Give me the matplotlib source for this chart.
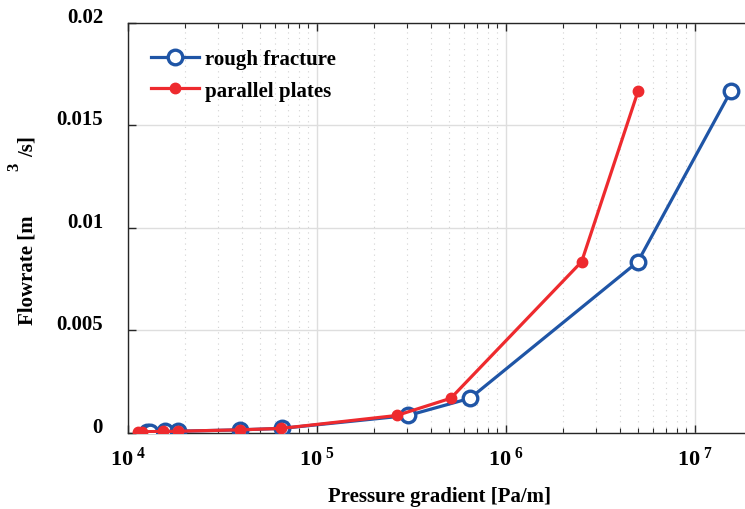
import numpy as np
import matplotlib.pyplot as plt
from matplotlib.ticker import LogLocator, FixedLocator, NullFormatter
import matplotlib.transforms as mtransforms

plt.rcParams['font.family'] = 'Liberation Serif'
plt.rcParams['font.weight'] = 'bold'
plt.rcParams['axes.labelweight'] = 'bold'
plt.rcParams['mathtext.fontset'] = 'custom'
plt.rcParams['mathtext.rm'] = 'Liberation Serif:bold'
plt.rcParams['mathtext.it'] = 'Liberation Serif:bold'
plt.rcParams['mathtext.bf'] = 'Liberation Serif:bold'

# flowrate in m^3/s, same flows for both cases
flow = [3.75e-5, 3.9e-5, 5.1e-5, 6.1e-5, 1.3e-4, 2.0e-4, 8.3e-4, 1.67e-3, 8.33e-3, 1.667e-2]

# pressure gradient in Pa/m
grad_rough = [1.26e4, 1.31e4, 1.56e4, 1.83e4, 3.92e4, 6.5e4, 3.03e5, 6.45e5, 4.98e6, 1.55e7]
grad_plates = [1.125e4, 1.18e4, 1.54e4, 1.83e4, 3.92e4, 6.46e4, 2.64e5, 5.1e5, 2.51e6, 5.0e6]

yticks = [0, 0.005, 0.01, 0.015, 0.02]
ytick_labels = ['0', '0.005', '0.01', '0.015', '0.02']
xticks = [1e4, 1e5, 1e6, 1e7]
xtick_labels = [r'$10^{\ 4}$', r'$10^{\ 5}$', r'$10^{\ 6}$', r'$10^{\ 7}$']

blue = '#1f55a6'
red = '#ee2a2e'

fig = plt.figure(figsize=(7.45, 5.1), dpi=100)
ax = fig.add_axes([128/745, 1 - 433.5/510, 624/745, 410/510])

ax.plot(grad_rough, flow, '-o', color=blue, lw=2.3, ms=10.5, mfc='white',
        mec=blue, mew=2.4, label='rough fracture', zorder=3)
ax.plot(grad_plates, flow, '-o', color=red, lw=2.3, ms=7.5, mfc=red,
        mec=red, label='parallel plates', zorder=4)

ax.set_xscale('log')
ax.set_xlim(1e4, 2e7)
ax.set_ylim(0, 0.02)

ax.xaxis.set_major_locator(FixedLocator(xticks))
ax.set_xticklabels(xtick_labels)
ax.xaxis.set_minor_locator(LogLocator(base=10, subs=np.arange(2, 10)))
ax.xaxis.set_minor_formatter(NullFormatter())
ax.set_yticks(yticks)
ax.set_yticklabels(ytick_labels)

ax.tick_params(axis='both', which='both', direction='in', top=True, right=False,
               colors='#262626', labelcolor='black', labelsize=15)
ax.tick_params(axis='both', which='major', length=6, width=1)
ax.tick_params(axis='x', which='minor', length=3.5, width=0.8)
ax.tick_params(axis='x', which='major', pad=10, labelsize=16)
ax.tick_params(axis='y', which='major', pad=18)

# y tick labels sit a little above their ticks
offset = mtransforms.ScaledTranslation(0, 6/72, fig.dpi_scale_trans)
for lbl in ax.get_yticklabels():
    lbl.set_transform(lbl.get_transform() + offset)

ax.grid(True, which='major', color='#dedede', lw=1, ls='-')
ax.grid(True, which='minor', axis='x', color='#d2d2d2', lw=0.8, ls=(0, (1, 4)))
ax.set_axisbelow(True)

for side in ['left', 'bottom', 'top']:
    ax.spines[side].set_color('#262626')
    ax.spines[side].set_linewidth(1)
ax.spines['right'].set_visible(False)

ax.set_xlabel('Pressure gradient [Pa/m]', fontsize=15, labelpad=12)

# y label with the detached exponent
fig.text(28/745, 1 - 325/510, 'Flowrate [m', rotation=90, fontsize=15,
         ha='center', va='bottom')
fig.text(14/745, 1 - 167/510, '3', rotation=90, fontsize=12,
         ha='center', va='center')
fig.text(28/745, 1 - 157/510, '/s]', rotation=90, fontsize=15,
         ha='center', va='bottom')

leg = ax.legend(loc='upper left', bbox_to_anchor=(0.024, 0.955), frameon=False,
                fontsize=15, handlelength=2.3, handletextpad=0.3,
                labelspacing=0.55, borderaxespad=0)

fig.savefig('out.png', dpi=100)
